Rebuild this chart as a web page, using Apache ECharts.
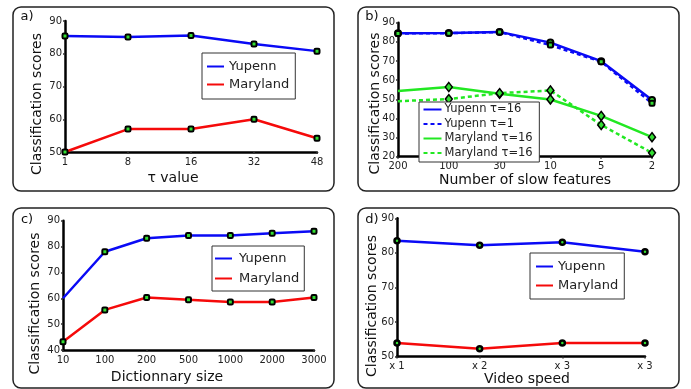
<!DOCTYPE html>
<html><head><meta charset="utf-8">
<script src="https://cdn.jsdelivr.net/npm/echarts@6/dist/echarts.min.js"></script>
<style>html,body{margin:0;padding:0;background:#fff}#c{width:691px;height:389px}</style>
</head><body><div id="c"></div>
<script>
// ---- data ----
const tauLabels = ['1', '8', '16', '32', '48'];
const tauYupenn = [85.4, 85.1, 85.6, 83.0, 80.8];
const tauMaryland = [50.0, 57.0, 57.0, 60.0, 54.2];

const slowLabels = ['200', '100', '30', '10', '5', '2'];
const slowYupenn16 = [84.5, 84.6, 85.2, 79.6, 69.9, 49.6];
const slowYupenn1 = [84.4, 84.5, 85.1, 78.3, 69.6, 47.9];
const slowMaryland16 = [54.3, 56.4, 52.9, 49.9, 41.3, 30.2];
const slowMaryland16b = [49.0, 50.1, 53.2, 54.6, 36.6, 22.0];

const dictLabels = ['10', '100', '200', '500', '1000', '2000', '3000'];
const dictYupenn = [60.0, 78.0, 83.2, 84.3, 84.3, 85.1, 85.9];
const dictMaryland = [43.2, 55.5, 60.3, 59.4, 58.6, 58.6, 60.3];

const speedLabels = ['x 1', 'x 2', 'x 3', 'x 3'];
const speedYupenn = [83.5, 82.2, 83.1, 80.3];
const speedMaryland = [53.9, 52.3, 53.9, 53.9];

const yTitle = 'Classification scores';
const xTitles = ['τ value', 'Number of slow features', 'Dictionnary size', 'Video speed'];
const panelTags = ['a)', 'b)', 'c)', 'd)'];

// ---- styling ----
const FONT = 'DejaVu Sans';
const BLUE = '#0a0af5', RED = '#f50a0a', GREEN = '#22e822', MK = '#33dd33';

const grids = [
  {left: 65, top: 21, width: 252, height: 131},
  {left: 398, top: 22.7, width: 254, height: 134},
  {left: 63, top: 220.7, width: 251, height: 129.3},
  {left: 397, top: 218.3, width: 248, height: 138.3}
];

function yAx(gi, min, max) {
  return {type: 'value', gridIndex: gi, min: min, max: max, interval: 10,
    axisLine: {show: true, lineStyle: {color: '#000', width: 2.5}},
    axisTick: {show: true, length: 2, lineStyle: {color: '#333', width: 1.5}},
    axisLabel: {color: '#222', fontSize: 10, margin: 3, fontFamily: FONT},
    splitLine: {show: false}};
}
function xAx(gi, labels) {
  return {type: 'category', gridIndex: gi, data: labels, boundaryGap: false,
    axisLine: {show: true, lineStyle: {color: '#000', width: 2.5}},
    axisTick: {show: true, length: 2, lineStyle: {color: '#333', width: 1.5}},
    axisLabel: {color: '#222', fontSize: 10, margin: 5, fontFamily: FONT, interval: 0},
    splitLine: {show: false}};
}
function ln(name, vals, gi, color, symbol, size, bw, dashed, hideFirst) {
  return {type: 'line', name: name, xAxisIndex: gi, yAxisIndex: gi,
    data: vals.map((v, i) => (hideFirst && i === 0) ? {value: v, symbol: 'none'} : v),
    symbol: symbol, symbolSize: size, showSymbol: true,
    lineStyle: {color: color, width: 2.5, type: dashed ? [4, 3] : 'solid'},
    itemStyle: {color: MK, borderColor: '#000', borderWidth: bw},
    z: 3};
}
function leg(names, left, top, fs, iw, gap, pad, ig) {
  return {orient: 'vertical', left: left, top: top, data: names, selectedMode: false,
    backgroundColor: '#fff', borderColor: '#333', borderWidth: 1, borderRadius: 0,
    padding: pad, itemWidth: iw, itemHeight: 10, itemGap: ig, z: 6,
    itemStyle: {opacity: 0},
    textStyle: {fontSize: fs, color: '#222', fontFamily: FONT, padding: [0, 0, 0, gap - 5]}};
}

const boxes = [[13, 7, 321, 184], [358, 7, 321, 184], [13, 208, 321, 180], [358, 208, 321, 180]];
const yTitlePos = [[37, 104], [375, 103.5], [35, 303.5], [372, 306]];
const xTitlePos = [[173, 178], [525, 180], [167, 377.7], [527, 379]];
const tagPos = [[27, 17], [372, 17], [27, 220], [372, 220]];

const graphic = [];
boxes.forEach(b => graphic.push({type: 'rect', shape: {x: b[0], y: b[1], width: b[2], height: b[3], r: 8},
  style: {fill: 'none', stroke: '#222', lineWidth: 1.5}, z: -1}));
yTitlePos.forEach(p => graphic.push({type: 'text', x: p[0], y: p[1], rotation: Math.PI / 2,
  style: {text: yTitle, fontSize: 14, fontFamily: FONT, fill: '#111', align: 'center', verticalAlign: 'middle'}}));
xTitlePos.forEach((p, i) => graphic.push({type: 'text', x: p[0], y: p[1],
  style: {text: xTitles[i], fontSize: 14, fontFamily: FONT, fill: '#111', align: 'center', verticalAlign: 'middle'}}));
tagPos.forEach((p, i) => graphic.push({type: 'text', x: p[0], y: p[1],
  style: {text: panelTags[i], fontSize: 13, fontFamily: FONT, fill: '#111', align: 'center', verticalAlign: 'middle'}}));

const option = {
  animation: false,
  textStyle: {fontFamily: FONT},
  grid: grids,
  xAxis: [xAx(0, tauLabels), xAx(1, slowLabels), xAx(2, dictLabels), xAx(3, speedLabels)],
  yAxis: [yAx(0, 50, 90), yAx(1, 20, 90), yAx(2, 40, 90), yAx(3, 50, 90)],
  legend: [
    leg(['Yupenn', 'Maryland'], 202, 53, 13, 17, 5, [7, 6, 8, 4], 5),
    leg(['Yupenn τ=16', 'Yupenn τ=1', 'Maryland τ=16', 'Maryland τ=16 '], 419, 102, 11.5, 18, 3, [1.5, 3, 3, 3.5], 2.5),
    leg(['Yupenn', 'Maryland'], 212, 246, 13, 17, 7, [6, 5, 6, 2], 7),
    leg(['Yupenn', 'Maryland'], 530, 253, 13, 17, 5, [7, 6, 7, 5], 6)
  ],
  series: [
    ln('Yupenn', tauYupenn, 0, BLUE, 'roundRect', 5, 2, false, false),
    ln('Maryland', tauMaryland, 0, RED, 'roundRect', 5, 2, false, false),
    ln('Yupenn τ=16', slowYupenn16, 1, BLUE, 'circle', 6, 2, false, false),
    ln('Yupenn τ=1', slowYupenn1, 1, BLUE, 'roundRect', 5, 2, true, false),
    ln('Maryland τ=16', slowMaryland16, 1, GREEN, 'diamond', [7, 9], 1.5, false, true),
    ln('Maryland τ=16 ', slowMaryland16b, 1, GREEN, 'diamond', [7, 9], 1.5, true, true),
    ln('Yupenn', dictYupenn, 2, BLUE, 'roundRect', 5, 2, false, true),
    ln('Maryland', dictMaryland, 2, RED, 'roundRect', 5, 2, false, false),
    ln('Yupenn', speedYupenn, 3, BLUE, 'circle', 5, 2.5, false, false),
    ln('Maryland', speedMaryland, 3, RED, 'circle', 5, 2.5, false, false)
  ],
  graphic: graphic
};
const chart = echarts.init(document.getElementById('c'), null, {renderer: 'canvas'});
chart.setOption(option);
</script></body></html>
